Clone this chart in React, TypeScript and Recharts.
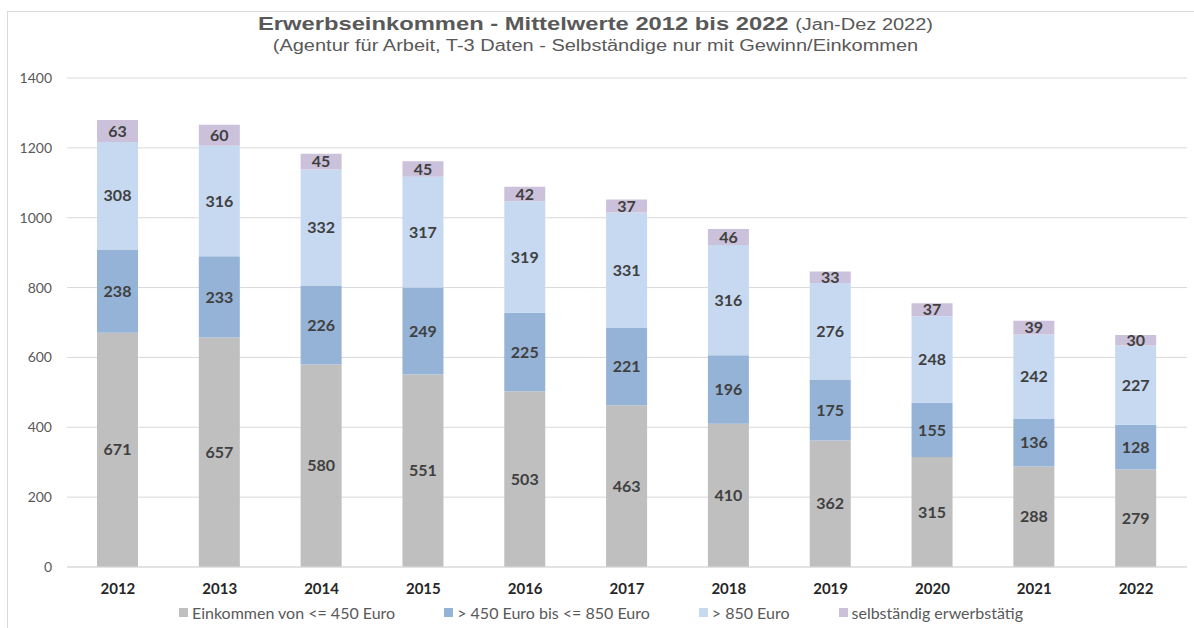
import React from "react";
import { BarChart, Bar, XAxis, YAxis, CartesianGrid, LabelList } from "recharts";

const years = ["2012", "2013", "2014", "2015", "2016", "2017", "2018", "2019", "2020", "2021", "2022"];
const bis450 = [671, 657, 580, 551, 503, 463, 410, 362, 315, 288, 279];
const bis850 = [238, 233, 226, 249, 225, 221, 196, 175, 155, 136, 128];
const ueber850 = [308, 316, 332, 317, 319, 331, 316, 276, 248, 242, 227];
const selbst = [63, 60, 45, 45, 42, 37, 46, 33, 37, 39, 30];
const yTicks = [0, 200, 400, 600, 800, 1000, 1200, 1400];

const SERIES = [
  { key: "a", name: "Einkommen von <= 450 Euro", color: "#bfbfbf" },
  { key: "b", name: "> 450 Euro bis <= 850 Euro", color: "#95b3d7" },
  { key: "c", name: "> 850 Euro", color: "#c6d9f0" },
  { key: "d", name: "selbständig erwerbstätig", color: "#ccc1da" },
];

const data = years.map((y, i) => ({
  year: y,
  a: bis450[i],
  b: bis850[i],
  c: ueber850[i],
  d: selbst[i],
}));

const FONT = "Lato, 'Open Sans', Arial, sans-serif";

export default function App() {
  return (
    <div style={{ position: "absolute", left: 0, top: 0, width: 1194, height: 628, background: "#fff", overflow: "hidden" }}>
      {/* frame */}
      <div style={{ position: "absolute", left: 7, top: 11, width: 1200, height: 640, borderTop: "1px solid #d9d9d9", borderLeft: "1px solid #d9d9d9" }} />

      <div
        style={{
          position: "absolute",
          left: 0,
          top: 12,
          width: 1194,
          textAlign: "center",
          fontFamily: "Arial, 'Liberation Sans', sans-serif",
          color: "#595959",
          transform: "scaleX(1.25)",
          transformOrigin: "603px 0",
        }}
      >
        <div style={{ fontSize: 19, lineHeight: "23px" }}>
          <b>Erwerbseinkommen - Mittelwerte 2012 bis 2022</b>{" "}
          <span style={{ fontSize: 16 }}>(Jan-Dez 2022)</span>
        </div>
        <div style={{ fontSize: 16, lineHeight: "19px" }}>
          (Agentur für Arbeit, T-3 Daten - Selbständige nur mit Gewinn/Einkommen
        </div>
      </div>

      <div style={{ position: "absolute", left: 0, top: 0 }}>
        <BarChart
          width={1194}
          height={628}
          data={data}
          barSize={41}
          margin={{ top: 78, right: 7, bottom: 31, left: 7 }}
        >
          <CartesianGrid vertical={false} stroke="#d9d9d9" />
          <XAxis
            dataKey="year"
            height={30}
            axisLine={{ stroke: "#d9d9d9" }}
            tickLine={false}
            tickMargin={10}
            tick={{ fill: "#262626", fontSize: 15, fontWeight: 700, fontFamily: FONT }}
          />
          <YAxis
            width={60}
            domain={[0, 1400]}
            ticks={yTicks}
            axisLine={false}
            tickLine={false}
            tickSize={0}
            tickMargin={15}
            tick={{ fill: "#595959", fontSize: 14, fontFamily: FONT }}
          />
          {SERIES.map((s) => (
            <Bar key={s.key} dataKey={s.key} name={s.name} stackId="x" fill={s.color} isAnimationActive={false}>
              <LabelList
                dataKey={s.key}
                position="center"
                fill="#404040"
                fontSize={16}
                fontWeight={700}
                fontFamily={FONT}
              />
            </Bar>
          ))}
        </BarChart>
      </div>

      {/* Legend */}
      <div
        style={{
          position: "absolute",
          left: 0,
          top: 603,
          width: 1194,
          display: "flex",
          justifyContent: "center",
          gap: 49,
          fontFamily: FONT,
          fontSize: 16,
          color: "#595959",
          paddingLeft: 8,
          boxSizing: "border-box",
        }}
      >
        {SERIES.map((s) => (
          <div key={s.key} style={{ display: "flex", alignItems: "center", gap: 4 }}>
            <div style={{ width: 9, height: 9, background: s.color }} />
            <span>{s.name}</span>
          </div>
        ))}
      </div>
    </div>
  );
}
